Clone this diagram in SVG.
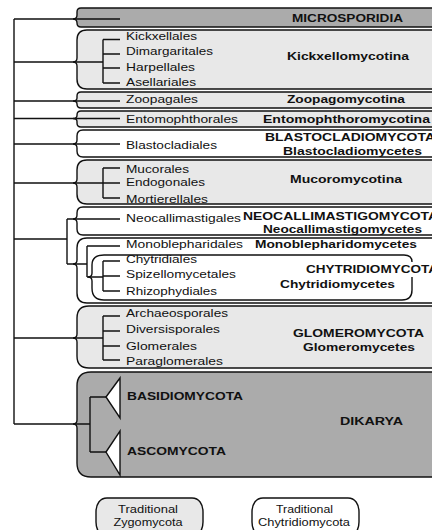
<svg xmlns="http://www.w3.org/2000/svg" width="432" height="530" viewBox="0 0 432 530">
<style>
.band{stroke:#111;stroke-width:1.4}
.dark{fill:#ababab}
.light{fill:#e8e8e8}
.white{fill:#fff}
.t{font-family:"Liberation Sans",Arial,sans-serif;font-size:11px;fill:#111}
.b{font-weight:bold}
.lg{font-size:10px;text-anchor:middle}
.ln{stroke:#111;stroke-width:1.4;fill:none}
.tri{stroke:#111;stroke-width:1.4;fill:#fff}
</style>
<rect width="432" height="530" fill="#fff"/>

<!-- taxon bands: brace-shaped left edge, open to the right -->
<g id="microsporidia">
<path class="band dark" d="M440,8H81Q77,8 77,12V15Q77,19 73,19Q77,19 77,23Q77,27 81,27H440Z"/>
<text class="t b" x="292" y="21.5" textLength="111" lengthAdjust="spacingAndGlyphs">MICROSPORIDIA</text>
</g>
<g id="kickxellomycotina">
<path class="band light" d="M440,30H87Q77,30 77,40V58Q77,62 73,62Q77,62 77,66V79Q77,89 87,89H440Z"/>
<text class="t" x="126" y="39.5" textLength="71" lengthAdjust="spacingAndGlyphs">Kickxellales</text>
<text class="t" x="126" y="55" textLength="87" lengthAdjust="spacingAndGlyphs">Dimargaritales</text>
<text class="t" x="126" y="70.5" textLength="69" lengthAdjust="spacingAndGlyphs">Harpellales</text>
<text class="t" x="126" y="86" textLength="70" lengthAdjust="spacingAndGlyphs">Asellariales</text>
<text class="t b" x="287" y="59.5" textLength="122" lengthAdjust="spacingAndGlyphs">Kickxellomycotina</text>
</g>
<g id="zoopagomycotina">
<path class="band light" d="M440,92H81Q77,92 77,96V98Q77,101 73,101Q77,101 77,104Q77,108 81,108H440Z"/>
<text class="t" x="126" y="103" textLength="72" lengthAdjust="spacingAndGlyphs">Zoopagales</text>
<text class="t b" x="287" y="103" textLength="118" lengthAdjust="spacingAndGlyphs">Zoopagomycotina</text>
</g>
<g id="entomophthoromycotina">
<path class="band light" d="M440,111H81Q77,111 77,115V115.5Q77,118.5 73,118.5Q77,118.5 77,121.5V123Q77,127 81,127H440Z"/>
<text class="t" x="126" y="123" textLength="112" lengthAdjust="spacingAndGlyphs">Entomophthorales</text>
<text class="t b" x="263" y="123" textLength="167" lengthAdjust="spacingAndGlyphs">Entomophthoromycotina</text>
</g>
<g id="blastocladiomycota">
<path class="band white" d="M440,130H83Q77,130 77,136V140Q77,144 73,144Q77,144 77,148V151Q77,157 83,157H440Z"/>
<text class="t" x="126" y="148.5" textLength="91" lengthAdjust="spacingAndGlyphs">Blastocladiales</text>
<text class="t b" x="265" y="140.5" textLength="170" lengthAdjust="spacingAndGlyphs">BLASTOCLADIOMYCOTA</text>
<text class="t b" x="283" y="155" textLength="139" lengthAdjust="spacingAndGlyphs">Blastocladiomycetes</text>
</g>
<g id="mucoromycotina">
<path class="band light" d="M440,160H87Q77,160 77,170V179Q77,183 73,183Q77,183 77,187V194Q77,204 87,204H440Z"/>
<text class="t" x="126" y="172.5" textLength="63" lengthAdjust="spacingAndGlyphs">Mucorales</text>
<text class="t" x="126" y="186" textLength="79" lengthAdjust="spacingAndGlyphs">Endogonales</text>
<text class="t" x="126" y="202.5" textLength="82" lengthAdjust="spacingAndGlyphs">Mortierellales</text>
<text class="t b" x="290" y="183" textLength="112" lengthAdjust="spacingAndGlyphs">Mucoromycotina</text>
</g>
<g id="neocallimastigomycota">
<path class="band white" d="M440,207H83Q77,207 77,213V215Q77,219 73,219Q77,219 77,223V229Q77,235 83,235H440Z"/>
<text class="t" x="126" y="222" textLength="115" lengthAdjust="spacingAndGlyphs">Neocallimastigales</text>
<text class="t b" x="243" y="219.5" textLength="195" lengthAdjust="spacingAndGlyphs">NEOCALLIMASTIGOMYCOTA</text>
<text class="t b" x="263" y="233" textLength="159" lengthAdjust="spacingAndGlyphs">Neocallimastigomycetes</text>
</g>
<g id="chytridiomycota">
<path class="band white" d="M440,238H87Q77,238 77,248V260Q77,264 73,264Q77,264 77,268V293Q77,303 87,303H440Z"/>
<path class="ln" d="M412,277V290Q412,300 402,300H104Q92,300 92,288V281Q92,277 88,277Q92,277 92,273V265Q92,255 104,255H404Q412,255 412,262"/>
<text class="t" x="126" y="248" textLength="117" lengthAdjust="spacingAndGlyphs">Monoblepharidales</text>
<text class="t" x="126" y="263" textLength="71" lengthAdjust="spacingAndGlyphs">Chytridiales</text>
<text class="t" x="126" y="278" textLength="110" lengthAdjust="spacingAndGlyphs">Spizellomycetales</text>
<text class="t" x="126" y="294.5" textLength="91" lengthAdjust="spacingAndGlyphs">Rhizophydiales</text>
<text class="t b" x="255" y="248" textLength="162" lengthAdjust="spacingAndGlyphs">Monoblepharidomycetes</text>
<text class="t b" x="306" y="273" textLength="132" lengthAdjust="spacingAndGlyphs">CHYTRIDIOMYCOTA</text>
<text class="t b" x="280" y="288" textLength="115" lengthAdjust="spacingAndGlyphs">Chytridiomycetes</text>
</g>
<g id="glomeromycota">
<path class="band light" d="M440,306H89Q77,306 77,318V334Q77,338 73,338Q77,338 77,342V356Q77,368 89,368H440Z"/>
<text class="t" x="126" y="317" textLength="102" lengthAdjust="spacingAndGlyphs">Archaeosporales</text>
<text class="t" x="126" y="333" textLength="94" lengthAdjust="spacingAndGlyphs">Diversisporales</text>
<text class="t" x="126" y="350" textLength="71" lengthAdjust="spacingAndGlyphs">Glomerales</text>
<text class="t" x="126" y="365" textLength="97" lengthAdjust="spacingAndGlyphs">Paraglomerales</text>
<text class="t b" x="293" y="337" textLength="131" lengthAdjust="spacingAndGlyphs">GLOMEROMYCOTA</text>
<text class="t b" x="303" y="351" textLength="112" lengthAdjust="spacingAndGlyphs">Glomeromycetes</text>
</g>
<g id="dikarya">
<path class="band dark" d="M440,372H91Q77,372 77,386V420Q77,424 73,424Q77,424 77,428V463Q77,477 91,477H440Z"/>
<text class="t b" x="127" y="400" textLength="116" lengthAdjust="spacingAndGlyphs">BASIDIOMYCOTA</text>
<text class="t b" x="127" y="454.5" textLength="99" lengthAdjust="spacingAndGlyphs">ASCOMYCOTA</text>
<text class="t b" x="340" y="425" textLength="63" lengthAdjust="spacingAndGlyphs">DIKARYA</text>
</g>

<!-- legend: parenthesis-sided boxes -->
<g id="legend-zygomycota">
<path class="band light" d="M107,498H192C199,498 203,504 203,512V522C203,530 199,536 192,536H107C100,536 96,530 96,522V512C96,504 100,498 107,498Z"/>
<text class="t lg" x="148" y="513" textLength="60" lengthAdjust="spacingAndGlyphs">Traditional</text>
<text class="t lg" x="148" y="525.5" textLength="69" lengthAdjust="spacingAndGlyphs">Zygomycota</text>
</g>
<g id="legend-chytridiomycota">
<path class="band white" d="M263,498H348C355,498 359,504 359,512V522C359,530 355,536 348,536H263C256,536 252,530 252,522V512C252,504 256,498 263,498Z"/>
<text class="t lg" x="304.5" y="513" textLength="57" lengthAdjust="spacingAndGlyphs">Traditional</text>
<text class="t lg" x="304" y="525.5" textLength="92" lengthAdjust="spacingAndGlyphs">Chytridiomycota</text>
</g>

<!-- tree connectors -->
<g id="connectors">
<path class="ln" d="M14,19V424M14,19H120M14,62H103M14,101H120M14,118.5H120M14,144H120M14,183H103M14,239H67M14,338H103M14,424H90"/>
<path class="ln" d="M103,39.5V83M103,39.5H120M103,54H120M103,68H120M103,83H120"/>
<path class="ln" d="M103,168V198M103,168H120M103,183H120M103,198H120"/>
<path class="ln" d="M67,219V264M67,219H120M67,264H87M87,246V277M87,246H120M87,277H103M103,261V291M103,261H120M103,276H120M103,291H120"/>
<path class="ln" d="M103,316V360M103,316H120M103,331H120M103,346H120M103,360H120"/>
<path class="ln" d="M90,397V452M90,397H106M90,452H106"/>
<path class="tri" d="M106,397L120,378V418Z"/>
<path class="tri" d="M106,452L120,431V475Z"/>
</g>
</svg>
